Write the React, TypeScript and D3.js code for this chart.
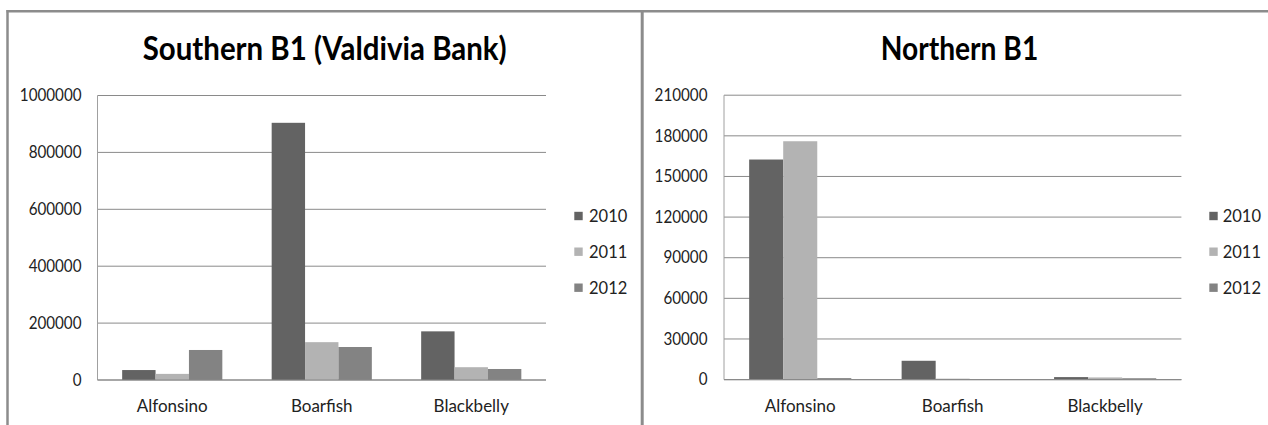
import React from "react";
import * as d3 from "d3";

const categories = ["Alfonsino", "Boarfish", "Blackbelly"];
const years = ["2010", "2011", "2012"];

const southTitle = "Southern B1 (Valdivia Bank)";
const south2010 = [35000, 904000, 171000];
const south2011 = [21500, 133000, 45000];
const south2012 = [105500, 116000, 38700];
const southTicks = [0, 200000, 400000, 600000, 800000, 1000000];

const northTitle = "Northern B1";
const north2010 = [162500, 13900, 1850];
const north2011 = [176000, 700, 1600];
const north2012 = [1100, 150, 1000];
const northTicks = [0, 30000, 60000, 90000, 120000, 150000, 180000, 210000];

const COLORS = ["#636363", "#b3b3b3", "#838383"];
const FONT = "Lato, 'Open Sans', sans-serif";

type PanelProps = {
  title: string;
  titleWidth: number;
  titleCx: number;
  series: number[][];
  ticks: number[];
  x0: number;
  x1: number;
  yTop: number;
  yZero: number;
  tickRight: number;
  legendX: number;
  legendTextX: number;
};

function Panel(p: PanelProps) {
  const maxV = p.ticks[p.ticks.length - 1];
  const y = d3.scaleLinear().domain([0, maxV]).range([p.yZero, p.yTop]);
  const x = d3
    .scaleBand<string>()
    .domain(categories)
    .range([p.x0, p.x1])
    .paddingInner(0.33)
    .paddingOuter(0.165);
  const xs = d3.scaleBand<string>().domain(years).range([0, x.bandwidth()]);
  const legendY = [216, 251.7, 287.7];
  return (
    <g>
      <text
        x={p.titleCx}
        y={59.5}
        textAnchor="middle"
        fontFamily={FONT}
        fontWeight="bold"
        fontSize={31.5}
        textLength={p.titleWidth}
        lengthAdjust="spacingAndGlyphs"
        fill="#000"
      >
        {p.title}
      </text>
      {p.ticks.map((t) => (
        <g key={t}>
          <line
            x1={p.x0}
            x2={p.x1}
            y1={y(t)}
            y2={y(t)}
            stroke="#8a8a8a"
            strokeWidth={1}
          />
          <text
            x={p.tickRight}
            y={y(t) + 5.8}
            textAnchor="end"
            fontFamily={FONT}
            fontSize={16}
            fill="#222"
            transform={`translate(${p.tickRight},${y(t) + 5.8}) scale(0.95,1.03) translate(${-p.tickRight},${-(y(t) + 5.8)})`}
          >
            {String(t)}
          </text>
        </g>
      ))}
      <line
        x1={p.x0}
        x2={p.x0}
        y1={p.yTop}
        y2={p.yZero}
        stroke="#a0a0a0"
        strokeWidth={1}
      />
      {categories.map((c, ci) => (
        <g key={c}>
          {years.map((yr, si) => {
            const v = p.series[si][ci];
            return (
              <rect
                key={yr}
                x={(x(c) as number) + (xs(yr) as number)}
                y={y(v)}
                width={xs.bandwidth()}
                height={p.yZero - y(v)}
                fill={COLORS[si]}
              />
            );
          })}
          <text
            x={(x(c) as number) + x.bandwidth() / 2}
            y={411.7}
            textAnchor="middle"
            fontFamily={FONT}
            fontSize={17}
            fill="#222"
          >
            {c}
          </text>
        </g>
      ))}
      <line
        x1={p.x0}
        x2={p.x1}
        y1={p.yZero}
        y2={p.yZero}
        stroke="#8a8a8a"
        strokeWidth={1.2}
      />
      {years.map((yr, si) => (
        <g key={yr}>
          <rect
            x={p.legendX}
            y={legendY[si] - 4.2}
            width={8.4}
            height={8.4}
            fill={COLORS[si]}
          />
          <text
            x={p.legendTextX}
            y={legendY[si] + 5.9}
            fontFamily={FONT}
            fontSize={16.5}
            fill="#222"
          >
            {yr}
          </text>
        </g>
      ))}
    </g>
  );
}

export default function App() {
  return (
    <svg
      width={1268}
      height={425}
      style={{ position: "absolute", left: 0, top: 0, background: "#fff" }}
    >
      <rect x={0} y={0} width={1268} height={425} fill="#fff" />
      <Panel
        title={southTitle}
        titleWidth={364}
        titleCx={324.7}
        series={[south2010, south2011, south2012]}
        ticks={southTicks}
        x0={97.5}
        x1={546}
        yTop={95.5}
        yZero={380}
        tickRight={81.5}
        legendX={574.3}
        legendTextX={589}
      />
      <Panel
        title={northTitle}
        titleWidth={157.6}
        titleCx={959.5}
        series={[north2010, north2011, north2012]}
        ticks={northTicks}
        x0={724}
        x1={1181.4}
        yTop={95.2}
        yZero={379.6}
        tickRight={707.5}
        legendX={1209.3}
        legendTextX={1222.7}
      />
      <line x1={6.5} x2={1268} y1={11.2} y2={11.2} stroke="#8c8c8c" strokeWidth={2.5} />
      <line x1={7.5} x2={7.5} y1={10} y2={425} stroke="#8c8c8c" strokeWidth={2.5} />
      <line x1={642.2} x2={642.2} y1={10} y2={425} stroke="#8c8c8c" strokeWidth={3} />
    </svg>
  );
}
